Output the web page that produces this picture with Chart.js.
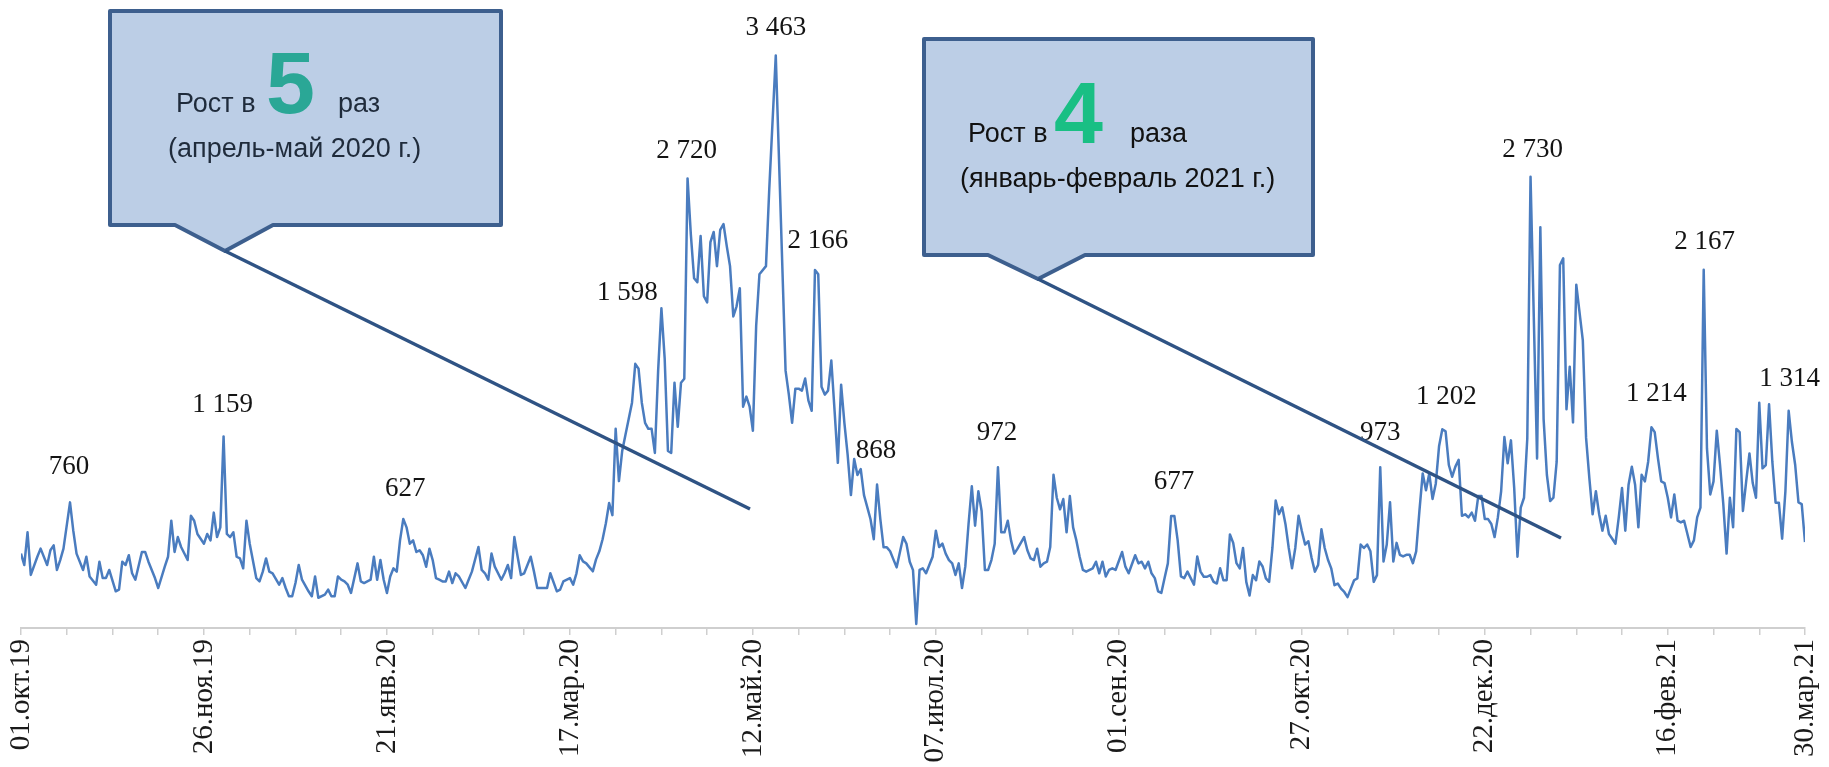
<!DOCTYPE html>
<html lang="ru">
<head>
<meta charset="utf-8">
<title>Динамика обращений</title>
<script src="https://cdn.jsdelivr.net/npm/chart.js@4.4.1/dist/chart.umd.min.js"></script>
<style>
  html, body { margin: 0; padding: 0; background: #ffffff; }
  #wrap { width: 1829px; height: 767px; }
</style>
</head>
<body>
<div id="wrap"><canvas id="chart" width="1829" height="767"></canvas></div>
<script>
// day offset from 01.10.2019 for every drawn vertex
const days = [
  0, 1, 2, 3, 5, 6, 8, 9, 10, 11, 12, 13, 15, 16, 17, 19, 20, 21, 23, 24,
  25, 26, 27, 29, 30, 31, 32, 33, 34, 35, 37, 38, 39, 41, 42, 44, 45, 46, 47, 48,
  49, 51, 52, 53, 54, 56, 57, 58, 59, 60, 61, 62, 63, 64, 65, 66, 67, 68, 69, 70,
  72, 73, 74, 75, 76, 77, 79, 80, 81, 82, 83, 84, 85, 86, 88, 89, 90, 91,
  93, 94, 95, 96, 97, 98, 99, 100, 101, 103, 104, 105, 107, 108, 109, 110, 111, 112, 113, 114,
  115, 116, 117, 118, 119, 120, 121, 122, 123, 124, 125, 126, 127, 128, 129, 130, 131, 132, 133, 134,
  136, 137, 138, 140, 141, 142, 143, 144, 145, 147, 148, 149, 150, 151, 152, 153, 154, 156, 157, 158,
  160, 161, 162, 164, 165, 166, 168, 169, 170,
  171, 172, 173, 174, 175, 176, 177, 178, 179, 180, 181, 182, 183, 184, 185, 186, 187, 188, 189, 190,
  191, 192, 193, 194, 195, 196, 197, 198, 199, 200, 201, 202, 203, 204, 205, 206, 207, 208, 209, 210,
  211, 212, 213, 214, 215, 216, 217, 218, 219, 220, 221, 222, 223, 224, 225, 226, 228, 229, 231, 234,
  235, 236, 237, 238, 239, 240, 241, 242, 243, 244, 245, 246, 247, 248, 249, 250, 251, 252, 253, 254,
  255, 256, 257, 258, 259, 260, 261, 262, 263, 264, 265, 266, 267, 268,
  270, 271, 272, 273, 274, 275, 276, 277, 278, 279, 280, 281, 282, 283, 284, 285, 286, 287, 288, 289,
  290, 291, 292, 293, 294, 295, 296, 297, 298, 299, 300, 301, 302, 303, 304, 305, 307, 308, 309, 310,
  311, 312, 313, 314, 315, 316, 317, 318, 319, 320, 321, 322, 323, 324, 325, 326, 328, 329, 330, 331,
  332, 333, 334, 335, 337, 338, 339, 341, 342, 343, 344, 345, 346, 347, 348, 349, 350, 351, 352, 353,
  354, 355, 356, 357, 358, 359,
  360, 361, 362, 363, 364, 365, 366, 367, 368, 369, 370, 371, 372, 373, 374, 375, 376, 377, 378, 379,
  380, 381, 382, 383, 384, 385, 386, 387, 388, 389, 390, 391, 392, 393, 394, 395, 396, 397, 398, 399,
  400, 401, 402, 403, 404, 405, 406, 407, 408, 409, 410, 411, 412, 413, 414, 415, 416, 417, 418, 419,
  420, 421, 422, 423, 424, 425, 426, 427, 428, 429, 430, 431, 432, 433, 434, 435, 436, 437, 438, 439,
  440, 441,
  442, 443, 444, 445, 446, 447, 448, 449, 450, 451, 452, 453, 454, 455, 456, 457, 458, 459, 460, 461,
  462, 464, 465, 466, 467, 468, 469, 470, 471, 472, 473, 474, 475, 476, 478, 479, 480, 481, 482, 483,
  484, 485, 486, 487, 488, 489, 490, 491, 492, 493, 494, 495, 496, 497, 498, 499, 500, 501, 502, 503,
  504, 505, 506, 507, 508, 509, 511, 512, 513, 514, 515, 516, 517, 518, 519, 520, 521, 522, 523, 524,
  525, 526, 527, 528, 529, 530, 531, 532, 533, 534, 535, 536, 537, 538, 539, 540, 541, 542, 543, 544,
  545, 546
];

// daily count at each of those days
const counts = [
  450, 381, 579, 321, 431, 480, 381, 470, 500, 351, 411, 480, 760, 589, 450, 351, 431, 312, 262, 401,
  302, 302, 351, 222, 232, 401, 381, 440, 331, 292, 460, 460, 401, 302, 242, 371, 431, 649, 460, 550,
  490, 411, 679, 649, 569, 510, 569, 530, 698, 550, 609, 1159, 569, 550, 579, 431, 421, 361, 649, 510,
  302, 282, 341, 421, 341, 331, 262, 302, 242, 192, 192, 272, 381, 292, 222, 192, 312, 183,
  202, 232, 192, 192, 312, 292, 282, 262, 212, 391, 282, 272, 292, 431, 292, 411, 292, 212, 312, 361,
  341, 530, 660, 609, 510, 530, 460, 470, 440, 371, 480, 411, 302, 292, 282, 282, 341, 272, 331, 312,
  242, 292, 341, 490, 351, 331, 292, 450, 371, 292, 331, 381, 302, 550, 431, 321, 331, 431, 341, 242,
  242, 242, 331, 222, 232, 282, 302, 262, 331,
  440, 403, 391, 367, 343, 415, 464, 537, 634, 756, 683, 1205, 889, 1071, 1169, 1266, 1363, 1598, 1569, 1363,
  1241, 1205, 1205, 1059, 1557, 1934, 1630, 1071, 1059, 1484, 1217, 1484, 1508, 2720, 2383, 2116, 2092, 2371, 2007, 1970,
  2335, 2396, 2189, 2408, 2444, 2310, 2189, 1885, 1946, 2055, 1339, 1400, 1339, 1193, 1827, 2140, 2189, 2651, 3463, 1557,
  1412, 1241, 1448, 1448, 1436, 1509, 1375, 1314, 2166, 2140, 1460, 1412, 1436, 1618, 1314, 999, 1472, 1241, 1047, 804,
  1023, 926, 962, 804, 731, 658, 537, 868, 658, 488, 488, 464, 415, 367,
  550, 510, 401, 350, 24, 351, 361, 331, 381, 431, 589, 490, 510, 450, 411, 391, 321, 391, 242, 371,
  629, 857, 619, 827, 708, 351, 351, 411, 510, 972, 579, 579, 649, 530, 450, 480, 550, 470, 421, 411,
  480, 371, 391, 401, 490, 927, 788, 718, 780, 579, 798, 609, 530, 431, 351, 341, 361, 401, 331, 401,
  312, 351, 361, 351, 460, 371, 331, 440, 391, 401, 361, 401, 331, 302, 222, 212, 302, 391, 677, 677,
  530, 312, 302, 341, 302, 262,
  433, 341, 310, 310, 320, 279, 269, 361, 289, 289, 566, 515, 392, 361, 484, 279, 197, 320, 289, 402,
  372, 300, 279, 484, 771, 689, 730, 628, 484, 361, 484, 679, 587, 505, 525, 423, 341, 382, 597, 484,
  413, 361, 259, 269, 238, 218, 187, 238, 289, 300, 505, 484, 505, 464, 279, 320, 973, 402, 505, 761,
  402, 515, 443, 433, 443, 443, 392, 464, 710, 935, 833, 935, 781, 873, 1099, 1202, 1190, 986, 915, 976,
  1017, 679,
  688, 669, 698, 649, 798, 798, 659, 659, 629, 550, 669, 827, 1155, 996, 1135, 847, 431, 728, 788, 1145,
  2730, 1026, 2425, 1264, 927, 768, 788, 1006, 2196, 2236, 1323, 1581, 1244, 2077, 1740, 1150, 907, 688, 827, 688,
  589, 679, 569, 540, 510, 669, 847, 589, 867, 976, 867, 609, 927, 887, 1006, 1214, 1185, 1026, 887, 877,
  788, 669, 808, 649, 639, 649, 490, 530, 669, 728, 2167, 1085, 808, 887, 1194, 986, 748, 450, 788, 609,
  1204, 1185, 708, 887, 1056, 877, 788, 1363, 966, 986, 1353, 1006, 758, 758, 540, 827, 1314, 1125, 986, 760,
  750, 520
];

// x axis: labelled dates (day offsets) and their captions
const tickLabelDays = [0, 56, 112, 168, 224, 280, 336, 392, 448, 504, 546];
const tickLabels = [
  "01.окт.19", "26.ноя.19", "21.янв.20", "17.мар.20", "12.май.20", "07.июл.20",
  "01.сен.20", "27.окт.20", "22.дек.20", "16.фев.21", "30.мар.21"
];
const minorTickStep = 14;

// peak annotations: the day they belong to and their text
const peakDays = [15, 62, 117, 188, 204, 231, 243, 262, 299, 352, 416, 435, 462, 499, 515, 541];
const peakTexts = [
  "760", "1 159", "627", "1 598", "2 720", "3 463", "2 166", "868",
  "972", "677", "973", "1 202", "2 730", "1 214", "2 167", "1 314"
];

if (days.length !== counts.length) {
  console.error("days/counts length mismatch:", days.length, counts.length);
}

// label placement relative to the point (px), style only
const peakDx = [-1, -1, 2, -8, -1, 0, 3, -1, -1, 3, 0, 4, 2, 5, 1, 1];
const peakDy = [-35, -32, -30, -71, -27, -28, -29, -34, -34, -34, -34, -32, -27, -33, -28, -32];

const peakLabelPlugin = {
  id: "peakLabels",
  afterDatasetsDraw(chart) {
    const ctx = chart.ctx;
    const xs = chart.scales.x;
    const ys = chart.scales.y;
    ctx.save();
    ctx.font = '27px "Liberation Serif"';
    ctx.fillStyle = "#141414";
    ctx.textAlign = "center";
    ctx.textBaseline = "middle";
    peakDays.forEach((d, i) => {
      const value = counts[days.indexOf(d)];
      const x = xs.getPixelForValue(d) + peakDx[i];
      const y = ys.getPixelForValue(value) + peakDy[i];
      ctx.fillText(peakTexts[i], x, y);
    });
    ctx.restore();
  },
};

// the two callout boxes with their pointer lines (canvas px)
const callouts = [
  {
    box: { l: 110, t: 11, r: 501, b: 225 },
    ptr: { left: 175, right: 273, x: 225, y: 251 },
    lineEnd: { x: 750, y: 509 },
    textColor: "#1f2b3b",
    bigColor: "#2aa796",
    parts: [
      { text: "Рост в", x: 176, y: 112 },
      { text: "5", x: 266, y: 113, big: true },
      { text: "раз", x: 338, y: 112 },
      { text: "(апрель-май 2020 г.)", x: 168, y: 157 },
    ],
  },
  {
    box: { l: 924, t: 39, r: 1313, b: 255 },
    ptr: { left: 988, right: 1085, x: 1038, y: 279 },
    lineEnd: { x: 1561, y: 538 },
    textColor: "#111111",
    bigColor: "#19bf84",
    parts: [
      { text: "Рост в", x: 968, y: 142 },
      { text: "4", x: 1054, y: 143, big: true },
      { text: "раза", x: 1130, y: 142 },
      { text: "(январь-февраль 2021 г.)", x: 960, y: 187 },
    ],
  },
];

const calloutPlugin = {
  id: "callouts",
  afterDraw(chart) {
    const ctx = chart.ctx;
    ctx.save();
    callouts.forEach((c) => {
      const b = c.box;
      const p = c.ptr;
      ctx.beginPath();
      ctx.moveTo(b.l, b.t);
      ctx.lineTo(b.r, b.t);
      ctx.lineTo(b.r, b.b);
      ctx.lineTo(p.right, b.b);
      ctx.lineTo(p.x, p.y);
      ctx.lineTo(p.left, b.b);
      ctx.lineTo(b.l, b.b);
      ctx.closePath();
      ctx.fillStyle = "#bccee6";
      ctx.fill();
      ctx.lineJoin = "round";
      ctx.lineWidth = 4;
      ctx.strokeStyle = "#3d5f8e";
      ctx.stroke();

      // long pointer line from the tip
      ctx.beginPath();
      ctx.moveTo(p.x, p.y);
      ctx.lineTo(c.lineEnd.x, c.lineEnd.y);
      ctx.lineWidth = 3.5;
      ctx.strokeStyle = "#2f5384";
      ctx.stroke();

      ctx.textAlign = "left";
      ctx.textBaseline = "alphabetic";
      c.parts.forEach((t) => {
        if (t.big) {
          ctx.font = 'bold 88px "Liberation Sans"';
          ctx.fillStyle = c.bigColor;
        } else {
          ctx.font = '27px "Liberation Sans"';
          ctx.fillStyle = c.textColor;
        }
        ctx.fillText(t.text, t.x, t.y);
      });
    });
    ctx.restore();
  },
};

function buildChart() {
  const ctx = document.getElementById("chart").getContext("2d");
  const points = days.map((d, i) => ({ x: d, y: counts[i] }));

  new Chart(ctx, {
    type: "line",
    data: {
      datasets: [
        {
          data: points,
          borderColor: "#4a7cbf",
          borderWidth: 2.5,
          borderJoinStyle: "round",
          pointRadius: 0,
          tension: 0,
          fill: false,
        },
      ],
    },
    options: {
      responsive: false,
      animation: false,
      devicePixelRatio: 1,
      layout: { padding: { left: 21, right: 24, top: 23, bottom: 0 } },
      plugins: {
        legend: { display: false },
        tooltip: { enabled: false },
      },
      scales: {
        x: {
          type: "linear",
          min: 0,
          max: 546,
          afterBuildTicks: (scale) => {
            const ticks = [];
            for (let d = 0; d <= 546; d += minorTickStep) ticks.push({ value: d });
            scale.ticks = ticks;
          },
          afterFit: (scale) => {
            // fixed axis band, and let the layout padding alone decide the sides
            scale.height = 139;
            scale.paddingLeft = 0;
            scale.paddingRight = 0;
          },
          grid: {
            drawOnChartArea: false,
            drawTicks: true,
            tickLength: 7,
            color: "#cfcfcf",
            lineWidth: 1.5,
          },
          border: { display: true, color: "#cfcfcf", width: 2 },
          ticks: {
            autoSkip: false,
            maxRotation: 90,
            minRotation: 90,
            padding: 4,
            labelOffset: 0,
            color: "#1a1a1a",
            font: { family: "Liberation Serif", size: 29 },
            callback: (value) => {
              const i = tickLabelDays.indexOf(value);
              return i >= 0 ? tickLabels[i] : "";
            },
          },
        },
        y: {
          display: false,
          min: 0,
          max: 3660,
        },
      },
    },
    plugins: [peakLabelPlugin, calloutPlugin],
  });
}

document.addEventListener("DOMContentLoaded", buildChart);
</script>
</body>
</html>
